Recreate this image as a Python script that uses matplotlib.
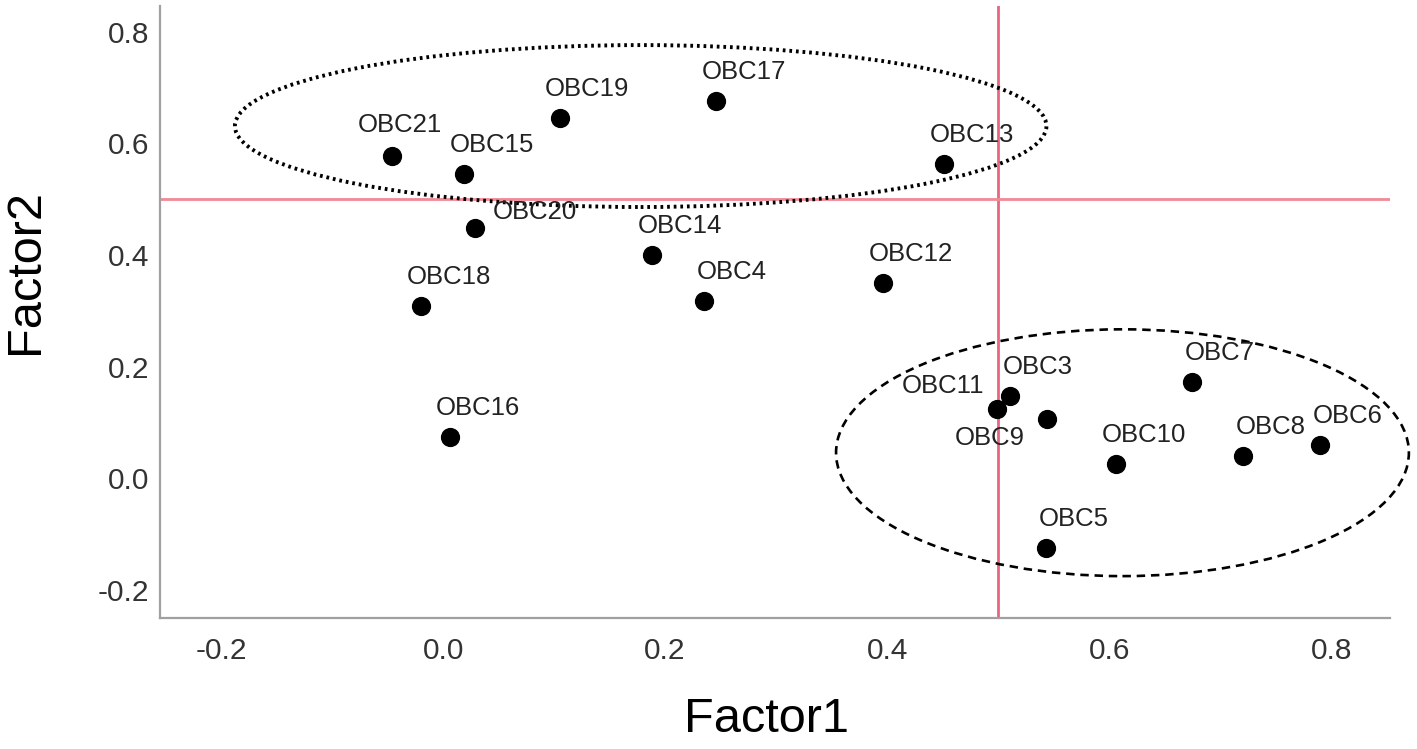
import matplotlib
matplotlib.use("Agg")
import matplotlib.pyplot as plt
from matplotlib.patches import Ellipse

plt.rcParams['font.family'] = ['Liberation Sans', 'DejaVu Sans']

# factor loadings
names = ["OBC21", "OBC15", "OBC19", "OBC17", "OBC13", "OBC20", "OBC14", "OBC4",
         "OBC12", "OBC18", "OBC16", "OBC11", "OBC3", "OBC9", "OBC7", "OBC10",
         "OBC8", "OBC6", "OBC5"]
factor1 = [-0.046, 0.019, 0.105, 0.246, 0.451, 0.029, 0.188, 0.235,
           0.396, -0.020, 0.006, 0.499, 0.511, 0.544, 0.675, 0.606,
           0.721, 0.790, 0.543]
factor2 = [0.578, 0.545, 0.646, 0.676, 0.563, 0.449, 0.400, 0.317,
           0.350, 0.308, 0.074, 0.124, 0.148, 0.107, 0.172, 0.025,
           0.040, 0.060, -0.125]

xticks = [-0.2, 0.0, 0.2, 0.4, 0.6, 0.8]
yticks = [-0.2, 0.0, 0.2, 0.4, 0.6, 0.8]
cutoff = 0.5

# label offsets in points (most labels sit up and to the right)
default_off = (20, 21)
special_off = {"OBC21": (6, 22), "OBC20": (43, 11), "OBC11": (-39, 17), "OBC9": (-41, -14)}

fig = plt.figure(figsize=(14.17, 7.49), dpi=100)
ax = fig.add_axes([160 / 1417, 131 / 749, 1230 / 1417, 612 / 749])

ax.axvline(cutoff, color='#e8667f', lw=2, zorder=1)
ax.axhline(cutoff, color='#f08a96', lw=2, zorder=1)

ax.scatter(factor1, factor2, s=165, color='black', zorder=3)
for n, x, y in zip(names, factor1, factor2):
    off = special_off.get(n, default_off)
    ax.annotate(n, (x, y), xytext=off, textcoords='offset points',
                ha='center', va='center', fontsize=18.5, color='#222222')

# group outlines
top = Ellipse((0.178, 0.631), 0.731, 0.290, fill=False, ec='black', lw=2.8,
              ls=(0, (0.7, 1.0)), clip_on=False, zorder=2)
bottom = Ellipse((0.612, 0.046), 0.516, 0.442, fill=False, ec='black', lw=1.9,
                 ls=(0, (3.2, 2.2)), clip_on=False, zorder=2)
ax.add_patch(top)
ax.add_patch(bottom)

ax.set_xlim(-0.255, 0.853)
ax.set_ylim(-0.25, 0.846)
ax.set_xticks(xticks)
ax.set_yticks(yticks)
ax.set_xticklabels(["%.1f" % t for t in xticks])
ax.set_yticklabels(["%.1f" % t for t in yticks])
ax.tick_params(length=0, labelsize=21.5, labelcolor='#333333')
ax.tick_params(axis='x', pad=14)
ax.tick_params(axis='y', pad=8)

for s in ['top', 'right']:
    ax.spines[s].set_visible(False)
for s in ['left', 'bottom']:
    ax.spines[s].set_color('#a0a0a0')
    ax.spines[s].set_linewidth(1.6)

fig.text(767 / 1417, 1 - 720 / 749, "Factor1", ha='center', va='center', fontsize=35)
fig.text(25 / 1417, 1 - 272 / 749, "Factor2", ha='center', va='center', fontsize=35,
         rotation=90)

fig.savefig("out.png", dpi=100)
